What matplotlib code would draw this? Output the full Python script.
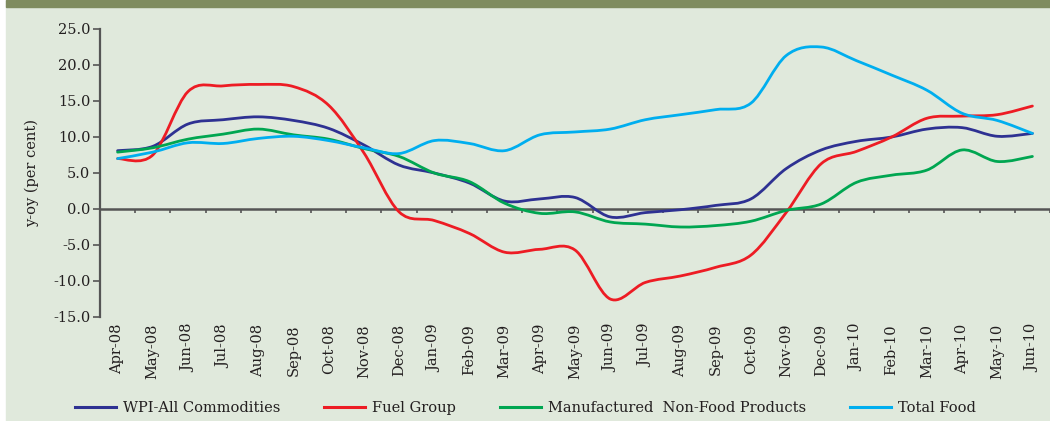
import matplotlib
matplotlib.use("Agg")
import matplotlib.pyplot as plt
from matplotlib.path import Path
from matplotlib.patches import PathPatch, Rectangle
from matplotlib.lines import Line2D

months = ["Apr-08", "May-08", "Jun-08", "Jul-08", "Aug-08", "Sep-08", "Oct-08",
          "Nov-08", "Dec-08", "Jan-09", "Feb-09", "Mar-09", "Apr-09", "May-09",
          "Jun-09", "Jul-09", "Aug-09", "Sep-09", "Oct-09", "Nov-09", "Dec-09",
          "Jan-10", "Feb-10", "Mar-10", "Apr-10", "May-10", "Jun-10"]

wpi = [8.1, 8.7, 11.8, 12.4, 12.8, 12.3, 11.2, 8.9, 6.1, 5.0, 3.6, 1.1, 1.4, 1.6,
       -1.1, -0.5, -0.1, 0.5, 1.4, 5.6, 8.2, 9.4, 10.0, 11.1, 11.3, 10.1, 10.5]
fuel = [7.0, 7.5, 16.3, 17.1, 17.3, 17.0, 14.4, 7.8, -0.4, -1.6, -3.4, -6.0, -5.6, -5.7,
        -12.5, -10.2, -9.3, -8.1, -6.4, -0.5, 6.3, 8.0, 10.0, 12.6, 12.9, 13.1, 14.3]
manuf = [7.9, 8.5, 9.7, 10.4, 11.1, 10.3, 9.7, 8.4, 7.3, 5.0, 3.8, 0.8, -0.6, -0.4,
         -1.8, -2.1, -2.5, -2.3, -1.7, -0.2, 0.7, 3.7, 4.7, 5.4, 8.2, 6.6, 7.3]
food = [7.0, 7.9, 9.2, 9.1, 9.8, 10.1, 9.5, 8.5, 7.7, 9.5, 9.1, 8.1, 10.3, 10.7,
        11.1, 12.4, 13.1, 13.8, 14.7, 21.3, 22.5, 20.6, 18.6, 16.5, 13.3, 12.3, 10.5]

series = [
    ("WPI-All Commodities", wpi, "#2e3192"),
    ("Fuel Group", fuel, "#ed1c24"),
    ("Manufactured  Non-Food Products", manuf, "#00a651"),
    ("Total Food", food, "#00aeef"),
]

plt.rcParams["font.family"] = ["DejaVu Serif"]
plt.rcParams["font.size"] = 10.5

bg = "#e0e9dc"
band = "#7f8c5f"
axis_col = "#555555"
text_col = "#231f20"


def smooth_path(ys):
    # excel style smoothed line: bezier segments through every point
    pts = list(enumerate(ys))
    n = len(pts)
    verts = [pts[0]]
    codes = [Path.MOVETO]
    for i in range(n - 1):
        p0 = pts[max(i - 1, 0)]
        p1 = pts[i]
        p2 = pts[i + 1]
        p3 = pts[min(i + 2, n - 1)]
        c1 = (p1[0] + (p2[0] - p0[0]) / 6, p1[1] + (p2[1] - p0[1]) / 6)
        c2 = (p2[0] - (p3[0] - p1[0]) / 6, p2[1] - (p3[1] - p1[1]) / 6)
        verts += [c1, c2, p2]
        codes += [Path.CURVE4] * 3
    return Path(verts, codes)


fig = plt.figure(figsize=(10.5, 4.21), dpi=100)
fig.patches.append(Rectangle((6 / 1050, 0), 1 - 6 / 1050, 1, transform=fig.transFigure,
                             color=bg, zorder=-2))
fig.patches.append(Rectangle((6 / 1050, 1 - 7 / 421), 1 - 6 / 1050, 7 / 421,
                             transform=fig.transFigure, color=band, zorder=-1))

ax = fig.add_axes([100 / 1050, 104 / 421, 950 / 1050, 288 / 421])
ax.set_facecolor("none")

handles = []
for name, vals, col in series:
    ax.add_patch(PathPatch(smooth_path(vals), fill=False, edgecolor=col, lw=2.0,
                           capstyle="round", joinstyle="round", zorder=3))
    handles.append(Line2D([], [], color=col, lw=2.2, label=name))

ax.set_xlim(-0.5, len(months) - 0.5)
ax.set_ylim(-15, 25)

for s in ["top", "right", "bottom"]:
    ax.spines[s].set_visible(False)
ax.spines["left"].set_color(axis_col)
ax.spines["left"].set_linewidth(1.6)

ax.set_yticks(range(-15, 26, 5))
ax.set_yticklabels([f"{v:.1f}" for v in range(-15, 26, 5)])
ax.tick_params(axis="y", direction="out", length=5, width=1.2, color=axis_col,
               labelcolor=text_col, pad=2)

ax.set_xticks(range(len(months)))
ax.set_xticklabels(months, rotation=90)
ax.tick_params(axis="x", length=0, pad=5, labelcolor=text_col)

# zero line with boundary ticks
zero = ax.secondary_xaxis(15 / 40)
zero.spines["bottom"].set_color(axis_col)
zero.spines["bottom"].set_linewidth(1.8)
zero.set_xticks([i + 0.5 for i in range(len(months))])
zero.tick_params(direction="out", length=3, width=1.2, color=axis_col, labelbottom=False)

ax.set_ylabel("y-oy (per cent)", color=text_col)
ax.yaxis.set_label_coords(-0.064, 0.5)

fig.legend(handles=handles, ncol=4, loc="center left",
           bbox_to_anchor=(75 / 1050, 13 / 421), frameon=False, borderpad=0,
           borderaxespad=0, handlelength=2.8, handletextpad=0.5, columnspacing=3.0,
           labelcolor=text_col)

fig.savefig("out.png", dpi=100)
